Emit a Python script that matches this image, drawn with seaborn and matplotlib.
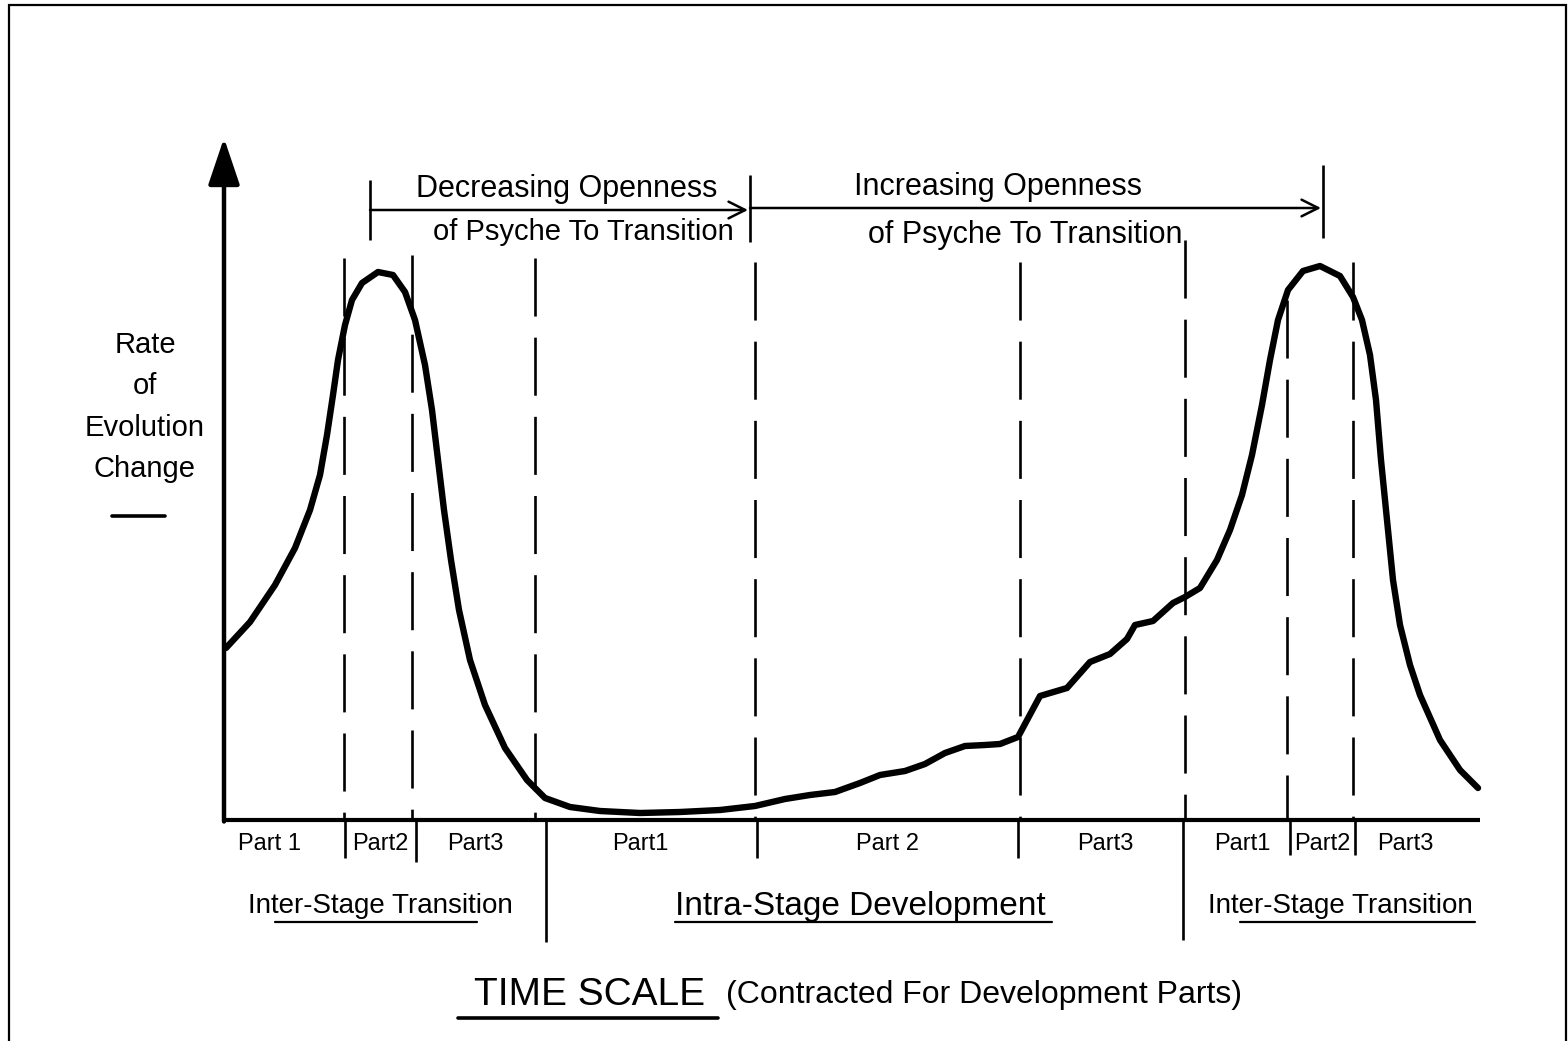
import numpy as np
import pandas as pd
import matplotlib
matplotlib.use("Agg")
import matplotlib.pyplot as plt
import seaborn as sns
from matplotlib.patches import Rectangle

# ---------------- data ----------------
time = [0.2, 2.6, 5.1, 7.1, 8.6, 9.6, 10.3, 10.9, 11.4, 12.1, 12.8, 13.8, 15.4,
        16.9, 18.1, 19.1, 20.1, 20.8, 21.4, 22.0, 22.7, 23.5, 24.6, 26.1, 28.1, 30.3,
        32.1, 34.6, 37.6, 41.6, 45.6, 49.6, 53.1, 56.1, 58.6, 61.1, 63.6, 65.6, 68.1,
        70.1, 72.1, 74.1, 76.1, 77.6, 79.4, 80.9, 81.6, 84.3, 86.6, 88.6, 90.3, 91.1,
        92.9, 94.9, 96.1, 97.6, 99.3, 100.6, 101.8, 102.8, 103.8, 104.6, 105.4, 106.4,
        107.9, 109.6, 111.6, 112.9, 113.8, 114.6, 115.2, 115.7, 116.3, 116.9, 117.6,
        118.6, 119.6, 121.6, 123.6, 125.4]
rate = [17.2, 19.8, 23.5, 27.2, 31.0, 34.5, 38.5, 42.5, 46.0, 49.5, 52.0, 53.7, 54.8,
        54.5, 52.8, 50.0, 45.5, 41.0, 36.0, 31.0, 26.0, 21.0, 16.0, 11.5, 7.2, 4.0,
        2.2, 1.3, 0.9, 0.7, 0.8, 1.0, 1.4, 2.1, 2.5, 2.8, 3.7, 4.5, 4.9,
        5.6, 6.7, 7.4, 7.5, 7.6, 8.3, 11.1, 12.4, 13.2, 15.8, 16.6, 18.1, 19.5,
        19.9, 21.7, 22.3, 23.2, 26.0, 29.0, 32.5, 36.5, 41.5, 46.0, 50.0, 53.0,
        54.9, 55.4, 54.4, 52.3, 50.0, 46.5, 42.0, 36.0, 30.0, 24.0, 19.5,
        15.5, 12.5, 8.0, 5.0, 3.2]

dashed_x = [12.0, 18.8, 31.1, 53.1, 79.6, 96.1, 106.3, 112.9]
dashed_top = [56.2, 56.5, 56.2, 55.8, 55.8, 58.0, 52.0, 55.8]
divider_x = [12.1, 19.2, 32.2, 53.3, 79.4, 95.9, 106.6, 113.1]
divider_bottom = [-3.8, -4.2, -12.2, -3.8, -3.8, -12.0, -3.5, -3.5]

part_labels = ["Part 1", "Part2", "Part3", "Part1", "Part 2", "Part3", "Part1", "Part2", "Part3"]
part_centers = [4.6, 15.6, 25.1, 41.6, 66.4, 88.1, 101.8, 109.8, 118.1]

stage_labels = ["Inter-Stage Transition", "Intra-Stage Development", "Inter-Stage Transition"]
stage_centers = [15.6, 63.6, 111.6]
stage_underline_start = [5.1, 45.1, 101.6]
stage_underline_end = [25.3, 82.8, 125.1]

bracket_x = [14.6, 52.6, 109.9]
bracket_top = [64.0, 64.5, 65.5]
bracket_bottom = [58.0, 57.8, 58.2]
openness_top = ["Decreasing Openness", "Increasing Openness"]
openness_bottom = ["of Psyche To Transition", "of Psyche To Transition"]

y_label = "Rate\nof\nEvolution\nChange"
x_title = "TIME SCALE"
x_subtitle = "(Contracted For Development Parts)"

# ---------------- style ----------------
sns.set_theme(style="white")
plt.rcParams['font.family'] = ['Liberation Sans', 'DejaVu Sans']
plt.rcParams['text.color'] = 'black'

W, H = 1568, 1041
fig = plt.figure(figsize=(W / 100, H / 100), dpi=100)
ax = fig.add_axes([0, 0, 1, 1])
ax.set_xlim(-22.4, 134.4)
ax.set_ylim(-22.1, 82.0)
ax.axis("off")

# frame around the page
fig.patches.append(Rectangle((9 / W, -0.05), 1557 / W, 1.05 - 5 / H, transform=fig.transFigure,
                             fill=False, lw=1.6, ec="black"))

df = pd.DataFrame({"time": time, "rate": rate})
sns.lineplot(data=df, x="time", y="rate", color="black", lw=4.6, ax=ax, sort=False,
             solid_joinstyle="round", solid_capstyle="round")

# axes
ax.plot([0, 125.6], [0, 0], color="black", lw=3.0, solid_capstyle="butt")
ax.annotate("", xy=(0, 68.2), xytext=(0, -0.15),
            arrowprops=dict(arrowstyle="-|>,head_length=0.8,head_width=0.27",
                            mutation_scale=36, lw=3.2, color="black",
                            shrinkA=0, shrinkB=0))

# dashed part boundaries (drawn from the top down)
ax.vlines(dashed_x, dashed_top, 0, colors="black", lw=1.9, linestyles=[(0, (22, 8))])
# solid dividers below axis
ax.vlines(divider_x, divider_bottom, 0, colors="black", lw=1.9)

# part labels
for lab, c in zip(part_labels, part_centers):
    ax.text(c, -2.4, lab, ha="center", va="center", fontsize=17, color="black")

# stage labels
for lab, c, s, e in zip(stage_labels, stage_centers, stage_underline_start, stage_underline_end):
    fs = 24 if "Intra" in lab else 20
    ax.text(c, -8.6, lab, ha="center", va="center", fontsize=fs, color="black")
    ax.plot([s, e], [-10.2, -10.2], color="black", lw=1.6)

# top brackets
ax.vlines(bracket_x, bracket_bottom, bracket_top, colors="black", lw=1.9)
ax.annotate("", xy=(52.4, 61.0), xytext=(14.6, 61.0),
            arrowprops=dict(arrowstyle="->,head_length=0.6,head_width=0.3", mutation_scale=20,
                            lw=1.8, color="black", shrinkA=0, shrinkB=0))
ax.annotate("", xy=(109.7, 61.2), xytext=(52.6, 61.2),
            arrowprops=dict(arrowstyle="->,head_length=0.6,head_width=0.3", mutation_scale=20,
                            lw=1.8, color="black", shrinkA=0, shrinkB=0))
ax.text(34.3, 63.1, openness_top[0], ha="center", va="center", fontsize=22, color="black")
ax.text(35.9, 58.8, openness_bottom[0], ha="center", va="center", fontsize=21, color="black")
ax.text(77.4, 63.3, openness_top[1], ha="center", va="center", fontsize=22, color="black")
ax.text(80.1, 58.5, openness_bottom[1], ha="center", va="center", fontsize=22, color="black")

# y label
ax.text(-7.9, 41.3, y_label, ha="center", va="center", fontsize=21, linespacing=1.6,
        color="black")
ax.plot([-11.2, -5.9], [30.4, 30.4], color="black", lw=2.6)

# x title
ax.text(36.6, -17.5, x_title, ha="center", va="center", fontsize=28, color="black")
ax.plot([23.4, 49.4], [-19.8, -19.8], color="black", lw=2.6)
ax.text(76.0, -17.5, x_subtitle, ha="center", va="center", fontsize=23, color="black")

fig.savefig("out.png", dpi=100)
